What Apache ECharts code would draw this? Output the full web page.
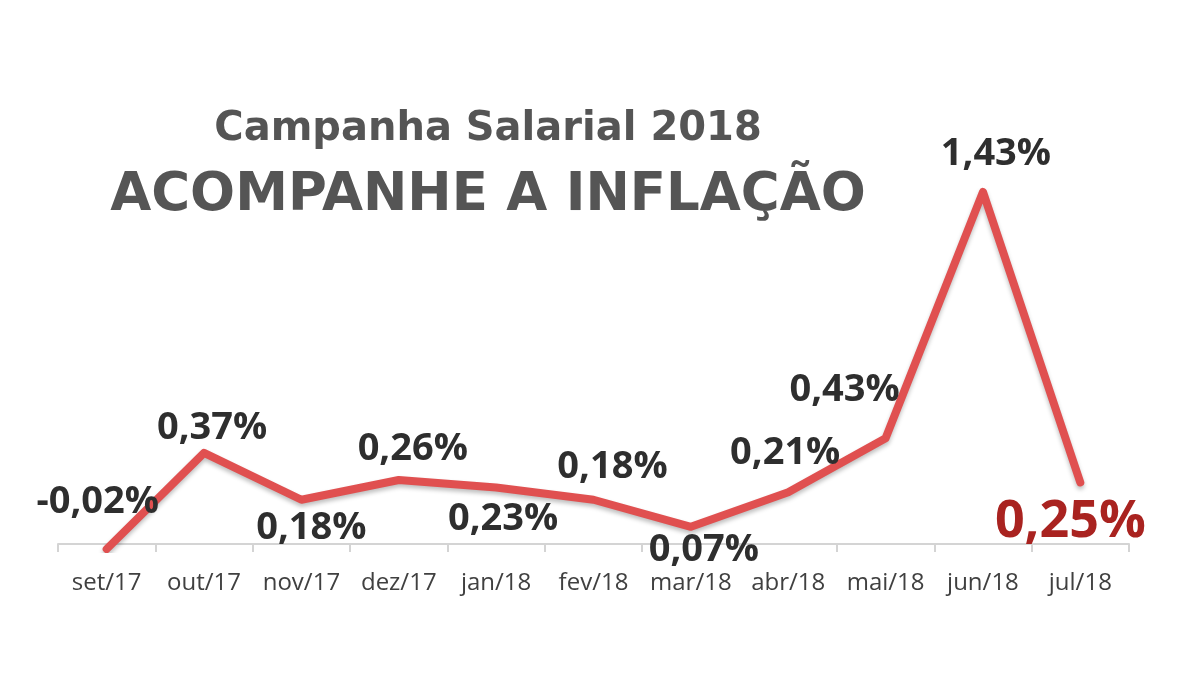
<!DOCTYPE html>
<html lang="pt">
  <head>
    <meta charset="UTF-8" />
    <title>Campanha Salarial 2018</title>
    <script src="https://cdn.jsdelivr.net/npm/echarts@6.0.0/dist/echarts.min.js"></script>
    <style>
      html, body { margin: 0; padding: 0; background: #fff; }
      #main { width: 1181px; height: 688px; }
    </style>
  </head>
  <body>
    <div id="main"></div>
    <script>
      // meses e variação mensal (%)
      const meses = ['set/17', 'out/17', 'nov/17', 'dez/17', 'jan/18', 'fev/18', 'mar/18', 'abr/18', 'mai/18', 'jun/18', 'jul/18']
      const inflacao = [-0.02, 0.37, 0.18, 0.26, 0.23, 0.18, 0.07, 0.21, 0.43, 1.43, 0.25]

      // deslocamento de cada rótulo em relação ao ponto
      const labelOffsets = [[-9, -47], [8, -25], [10, 28], [14, -31], [7, 32], [19, -33], [13, 23], [-3, -39], [-41, -48], [13, -38], [-10, 40]]

      const myChart = echarts.init(document.getElementById('main'))

      const fmt = (v) => v.toFixed(2).replace('.', ',') + '%'

      const pontos = inflacao.map((v, i) => {
        const last = i === inflacao.length - 1
        return {
          value: v,
          label: {
            offset: labelOffsets[i],
            color: last ? '#a92320' : '#2e2e2e',
            fontSize: last ? 52 : 38,
          },
        }
      })

      const option = {
        backgroundColor: '#fff',
        animation: false,
        title: [
          {
            text: 'Campanha Salarial 2018',
            left: 483,
            top: 105,
            textAlign: 'center',
            textStyle: { fontFamily: 'DejaVu Sans', fontWeight: 'bold', fontSize: 40, color: '#555' },
          },
          {
            text: 'ACOMPANHE A INFLAÇÃO',
            left: 483,
            top: 165,
            textAlign: 'center',
            textStyle: { fontFamily: 'DejaVu Sans', fontWeight: 'bold', fontSize: 53, color: '#555' },
          },
        ],
        grid: { left: 58, right: 52, top: 150, bottom: 139 },
        xAxis: {
          type: 'category',
          data: meses,
          boundaryGap: true,
          axisLine: { lineStyle: { color: '#d4d4d4', width: 2 } },
          axisTick: { show: true, length: 8, lineStyle: { color: '#d4d4d4', width: 2 } },
          axisLabel: { interval: 0, margin: 22, fontFamily: 'Open Sans', fontSize: 24, color: '#404040' },
        },
        yAxis: {
          type: 'value',
          min: -0.02,
          max: 1.6,
          show: false,
          splitLine: { show: false },
        },
        series: [
          {
            type: 'line',
            data: pontos,
            symbol: 'circle',
            symbolSize: 2,
            itemStyle: { color: '#e05050' },
            lineStyle: {
              color: '#e05050',
              width: 8,
              cap: 'round',
              join: 'round',
              shadowColor: 'rgba(0,0,0,0.25)',
              shadowBlur: 4,
              shadowOffsetY: 3,
            },
            label: {
              show: true,
              position: 'inside',
              align: 'center',
              verticalAlign: 'middle',
              fontFamily: 'Open Sans',
              fontWeight: 'bold',
              formatter: (p) => fmt(p.value),
            },
          },
        ],
      }

      myChart.setOption(option)
    </script>
  </body>
</html>
